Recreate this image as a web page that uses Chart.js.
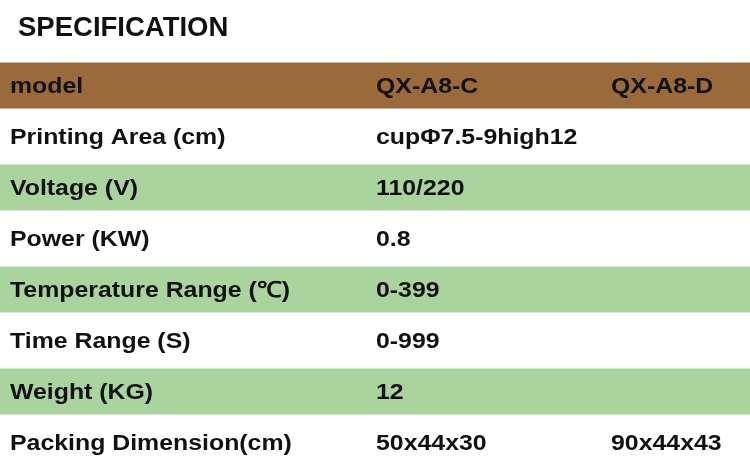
<!DOCTYPE html>
<html>
<head>
<meta charset="utf-8">
<script src="https://cdn.jsdelivr.net/npm/chart.js@4"></script>
<style>
  html, body { margin: 0; padding: 0; background: #fff; }
  #wrap { width: 750px; height: 468px; }
</style>
</head>
<body>
<div id="wrap"><canvas id="specChart"></canvas></div>
<script>
// table data
const rowLabels = ['model', 'Printing Area (cm)', 'Voltage (V)', 'Power (KW)', 'Temperature Range (\u2103)', 'Time Range (S)', 'Weight (KG)', 'Packing Dimension(cm)'];
const colC = ['QX-A8-C', 'cup\u03A67.5-9high12', '110/220', '0.8', '0-399', '0-999', '12', '50x44x30'];
const colD = ['QX-A8-D', '', '', '', '', '', '', '90x44x43'];
const rowColors = ['#9a6a3a', '#ffffff', '#a9d49e', '#ffffff', '#a9d49e', '#ffffff', '#a9d49e', '#ffffff'];
const rowFill = [1, 1, 1, 1, 1, 1, 1, 1];

// draw title and cell text on top of the row bands
const tableText = {
  id: 'tableText',
  afterDatasetsDraw(chart) {
    const c = chart.ctx;
    const y = chart.scales.y;
    c.save();
    c.fillStyle = '#111';
    c.textBaseline = 'middle';
    c.font = 'bold 27.5px "Liberation Sans", Arial, sans-serif';
    c.fillText('SPECIFICATION', 18, 28);
    c.font = 'bold 22px "Liberation Sans", Arial, sans-serif';
    rowLabels.forEach((lab, i) => {
      const yc = y.getPixelForValue(i) + 1;
      // text a bit wider than the font gives
      c.save();
      c.translate(0, yc);
      c.scale(1.13, 1);
      c.fillText(lab, 10 / 1.13, 0);
      c.fillText(colC[i], 376 / 1.13, 0);
      if (colD[i]) c.fillText(colD[i], 611 / 1.13, 0);
      c.restore();
    });
    c.restore();
  }
};

new Chart(document.getElementById('specChart'), {
  type: 'bar',
  data: {
    labels: rowLabels,
    datasets: [{
      data: rowFill,
      backgroundColor: rowColors,
      borderWidth: 0,
      barPercentage: 1,
      categoryPercentage: 0.9
    }]
  },
  options: {
    indexAxis: 'y',
    responsive: true,
    maintainAspectRatio: false,
    animation: false,
    layout: { padding: { top: 60, left: 0, right: 0, bottom: 0 } },
    plugins: { legend: { display: false }, tooltip: { enabled: false } },
    scales: {
      x: { display: false, min: 0, max: 1 },
      y: { display: false }
    }
  },
  plugins: [tableText]
});
</script>
</body>
</html>
